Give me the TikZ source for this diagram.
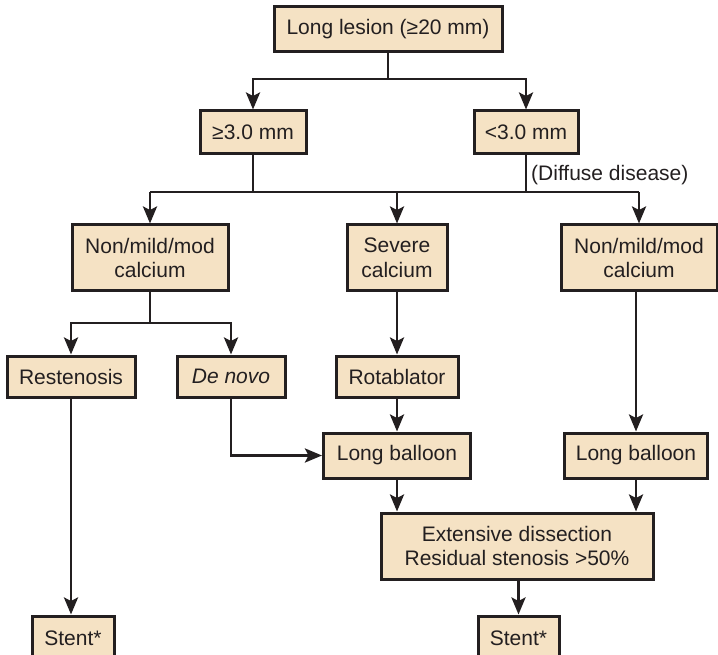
\documentclass[tikz,border=0pt]{standalone}
\usepackage{fontspec}
\setmainfont{Liberation Sans}
\usetikzlibrary{arrows.meta}
\definecolor{boxfill}{RGB}{245,226,196}
\definecolor{ink}{RGB}{35,31,32}
\begin{document}
\begin{tikzpicture}[x=1pt,y=-1pt,
  box/.style={draw=ink,fill=boxfill,line width=3pt,inner sep=0pt,
    minimum height=43pt,align=center,text=ink,
    font=\fontsize{21}{24.5}\selectfont},
  tallbox/.style={box,minimum height=66pt},
  link/.style={draw=ink,line width=2.8pt,line join=miter},
  arr/.style={link,-{Stealth[length=17pt,width=14pt,inset=3.5pt]}}]
\useasboundingbox (0,0) rectangle (718,655);
\clip (0,0) rectangle (718,655);

% boxes
\node[box,minimum width=228pt,minimum height=45pt] (top) at (388,29.5) {Long lesion (≥20 mm)};
\node[box,minimum width=106pt] (ge) at (253,132.5) {≥3.0 mm};
\node[box,minimum width=104pt] (lt) at (526,132.5) {<3.0 mm};
\node[tallbox,minimum width=156pt] (calcL) at (150,258) {Non/mild/mod\\calcium};
\node[tallbox,minimum width=100pt] (sev) at (397,258) {Severe\\calcium};
\node[tallbox,minimum width=156pt] (calcR) at (639,258) {Non/mild/mod\\calcium};
\node[box,minimum width=128pt,minimum height=41pt] (rest) at (71,376.5) {Restenosis};
\node[box,minimum width=108pt,minimum height=41pt] (dn) at (231,376.5) {\textit{De novo}};
\node[box,minimum width=122pt,minimum height=41pt] (rota) at (397,376.5) {Rotablator};
\node[box,minimum width=147pt,minimum height=45pt] (lbC) at (397,455.5) {Long balloon};
\node[box,minimum width=143pt,minimum height=45pt] (lbR) at (636,455.5) {Long balloon};
\node[tallbox,minimum width=272pt] (ext) at (517,546) {Extensive dissection\\Residual stenosis >50\%};
\node[box,minimum width=82pt,minimum height=44pt] (stL) at (73,638) {Stent*};
\node[box,minimum width=81pt,minimum height=44pt] (stR) at (518.5,638) {Stent*};

\node[anchor=west,inner sep=0pt,text=ink,font=\fontsize{21}{24.5}\selectfont] (diff) at (531,175) {(Diffuse disease)};

% junction points
\coordinate (j1) at (388,79);
\coordinate (j2) at (253,192);
\coordinate (j3) at (526,192);
\coordinate (j4) at (150,323);

% top split
\draw[link] (top.south) -- (j1);
\draw[arr] (j1) -| (ge.north);
\draw[arr] (j1) -| (lt.north);

% second split: one bar feeding three branches
\draw[link] (ge.south) -- (j2);
\draw[link] (lt.south) -- (j3);
\draw[link] (calcL.north |- j2) -- (calcR.north |- j2);
\draw[arr] (calcL.north |- j2) -- (calcL.north);
\draw[arr] (sev.north |- j2) -- (sev.north);
\draw[arr] (calcR.north |- j2) -- (calcR.north);

% left calcium split
\draw[link] (calcL.south) -- (j4);
\draw[arr] (j4) -| (rest.north);
\draw[arr] (j4) -| (dn.north);

% treatment paths
\draw[arr] (sev.south) -- (rota.north);
\draw[arr] (rota.south) -- (lbC.north);
\draw[arr] (dn.south) |- (lbC.west);
\draw[arr] (calcR.south -| lbR.north) -- (lbR.north);
\draw[arr] (lbC.south) -- (lbC.south |- ext.north);
\draw[arr] (lbR.south) -- (lbR.south |- ext.north);
\draw[arr] (rest.south) -- (rest.south |- stL.north);
\draw[arr] (ext.south -| stR.north) -- (stR.north);
\end{tikzpicture}
\end{document}
